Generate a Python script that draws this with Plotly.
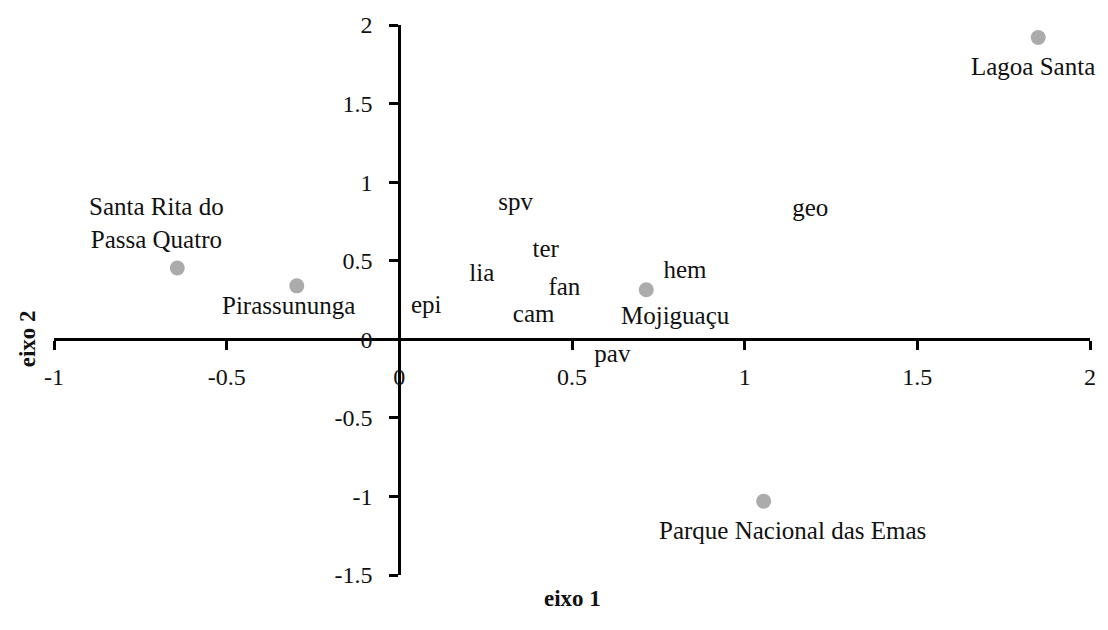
import plotly.graph_objects as go

# ---- data ----
site_names = ["Santa Rita do<br>Passa Quatro", "Pirassununga", "Mojiguaçu",
              "Lagoa Santa", "Parque Nacional das Emas"]
site_x = [-0.643, -0.297, 0.715, 1.85, 1.055]
site_y = [0.454, 0.34, 0.315, 1.92, -1.03]

species = ["spv", "ter", "lia", "fan", "epi", "cam", "pav", "geo", "hem"]
species_x = [0.337, 0.424, 0.239, 0.478, 0.078, 0.389, 0.617, 1.19, 0.827]
species_y = [0.864, 0.561, 0.41, 0.322, 0.208, 0.151, -0.107, 0.826, 0.429]

x_ticks = [-1, -0.5, 0, 0.5, 1, 1.5, 2]
y_ticks = [-1.5, -1, -0.5, 0, 0.5, 1, 1.5, 2]
x_title = "eixo 1"
y_title = "eixo 2"

# ---- style ----
FONT = "Liberation Serif"
label_offsets = [(-21, 45), (-8, -20), (29, -26), (-5, -29), (29, -29)]  # pixel shifts
x_range = [min(x_ticks), max(x_ticks)]
y_range = [min(y_ticks), max(y_ticks)]

fig = go.Figure()
fig.add_trace(go.Scatter(
    x=site_x, y=site_y, mode="markers",
    marker=dict(size=15, color="#ababab", line=dict(width=0)),
    hoverinfo="skip", showlegend=False))
fig.add_trace(go.Scatter(
    x=species_x, y=species_y, mode="text", text=species,
    textposition="middle center",
    textfont=dict(family=FONT, size=25, color="#111111"),
    hoverinfo="skip", showlegend=False))

for name, sx, sy, (dx, dy) in zip(site_names, site_x, site_y, label_offsets):
    fig.add_annotation(x=sx, y=sy, text=name, showarrow=False,
                       xshift=dx, yshift=dy, xanchor="center", yanchor="middle",
                       font=dict(family=FONT, size=25, color="#111111"),
                       align="center")

# axis crossing positions (paper fractions) computed from ranges
xaxis_pos = (0 - y_range[0]) / (y_range[1] - y_range[0])
yaxis_pos = (0 - x_range[0]) / (x_range[1] - x_range[0])

axis_common = dict(showgrid=False, zeroline=False, showline=True,
                   linecolor="#000000", linewidth=3, ticks="outside",
                   ticklen=9, tickwidth=3, tickcolor="#000000",
                   tickfont=dict(family=FONT, size=24, color="#111111"))

fig.update_xaxes(range=x_range, tickvals=x_ticks,
                 ticktext=[f"{v:g}" for v in x_ticks],
                 anchor="free", position=xaxis_pos, ticklabelstandoff=6,
                 **axis_common)
fig.update_yaxes(range=y_range, tickvals=y_ticks,
                 ticktext=[f"{v:g}" for v in y_ticks],
                 anchor="free", position=yaxis_pos, ticklabelstandoff=12,
                 **axis_common)

fig.add_annotation(xref="x", yref="paper", x=0.5, y=0, yshift=-23,
                   text=f"<b>{x_title}</b>", showarrow=False,
                   xanchor="center", yanchor="middle",
                   font=dict(family=FONT, size=23, color="#111111"))
fig.add_annotation(xref="paper", yref="y", x=0, y=0, xshift=-27,
                   text=f"<b>{y_title}</b>", showarrow=False, textangle=-90,
                   xanchor="center", yanchor="middle",
                   font=dict(family=FONT, size=23, color="#111111"))

fig.update_layout(width=1108, height=630,
                  margin=dict(l=54, r=13, t=20, b=55),
                  plot_bgcolor="white", paper_bgcolor="white")

fig.write_html("out.html")
